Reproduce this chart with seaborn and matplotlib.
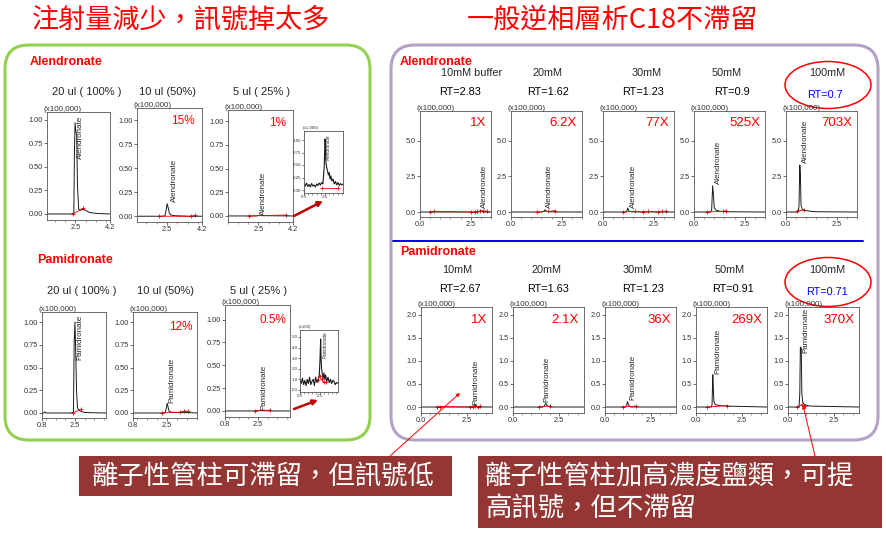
import matplotlib
matplotlib.use("Agg")
import matplotlib.pyplot as plt
import seaborn as sns
import pandas as pd
from matplotlib.transforms import Affine2D
from matplotlib.patches import FancyBboxPatch, Ellipse, Rectangle, FancyArrowPatch
from matplotlib.lines import Line2D
from matplotlib.ticker import MultipleLocator

# ------------------------------------------------------------------ data
TITLE_LEFT = "注射量減少，訊號掉太多"
TITLE_RIGHT = "一般逆相層析C18不滯留"
CALLOUT_LEFT = "離子性管柱可滯留，但訊號低"
CALLOUT_RIGHT = ["離子性管柱加高濃度鹽類，可提", "高訊號，但不滯留"]
COMPOUNDS = ["Alendronate", "Pamidronate"]

INJ_HEADERS = ["20 ul ( 100% )", "10 ul (50%)", "5 ul ( 25% )"]
ALN_INJ_PCT = ["", "15%", "1%"]
PAM_INJ_PCT = ["", "12%", "0.5%"]

ALN_CONC = ["10mM buffer", "20mM", "30mM", "50mM", "100mM"]
PAM_CONC = ["10mM", "20mM", "30mM", "50mM", "100mM"]
ALN_RT = [2.83, 1.62, 1.23, 0.9, 0.7]
PAM_RT = [2.67, 1.63, 1.23, 0.91, 0.71]
ALN_GAIN = ["1X", "6.2X", "77X", "525X", "703X"]
PAM_GAIN = ["1X", "2.1X", "36X", "269X", "370X"]

# left box: injection volume series (time min, intensity x100,000)
ALN_INJ_T = [
    [1.1, 2.3, 2.42, 2.45, 2.48, 2.52, 2.56, 2.6, 2.66, 2.75, 2.9, 3.2, 3.6, 4.2],
    [1.05, 2.3, 2.4, 2.46, 2.51, 2.56, 2.62, 2.7, 2.9, 3.5, 4.2],
    [1.0, 2.4, 2.55, 2.65, 4.2],
]
ALN_INJ_Y = [
    [0.0, 0.0, 0.01, 0.65, 0.97, 0.88, 0.84, 0.3, 0.05, 0.04, 0.05, 0.015, 0.005, 0.0],
    [0.0, 0.0, 0.005, 0.06, 0.13, 0.09, 0.03, 0.012, 0.005, 0.0, 0.0],
    [0.0, 0.0, 0.008, 0.003, 0.0],
]
ALN_INJ_MARK_T = [[2.39, 2.85], [2.11, 3.66, 3.87], [2.01, 3.86]]
ALN_INJ_MARK_Y = [[0.0, 0.06], [0.0, 0.0, 0.01], [0.0, 0.01]]

PAM_INJ_T = [
    [0.8, 0.9, 0.95, 1.0, 2.3, 2.42, 2.46, 2.5, 2.54, 2.58, 2.63, 2.7, 2.8, 3.0, 4.1],
    [0.8, 1.5, 2.3, 2.42, 2.47, 2.51, 2.55, 2.6, 2.7, 3.0, 3.5, 4.0],
    [0.8, 2.3, 2.6, 3.2, 4.15],
]
PAM_INJ_Y = [
    [0.0, 0.0, 0.012, 0.0, 0.0, 0.01, 0.78, 1.0, 0.66, 0.25, 0.06, 0.03, 0.02, 0.005, 0.0],
    [0.0, 0.0, 0.0, 0.01, 0.06, 0.107, 0.07, 0.02, 0.01, 0.005, 0.005, 0.0],
    [0.0, 0.0, 0.004, 0.0, 0.0],
]
PAM_INJ_MARK_T = [[2.38, 2.79], [2.23, 3.15, 3.37, 3.53], [2.35, 3.12]]
PAM_INJ_MARK_Y = [[0.0, 0.04], [0.0, 0.01, 0.02, 0.02], [0.0, 0.01]]

# zoomed insets of the 5 ul runs
ALN_ZOOM_T = [0.0, 0.15, 0.3, 0.45, 0.6, 0.75, 0.9, 1.05, 1.2, 1.35, 1.5, 1.65, 1.8, 1.95,
              2.1, 2.25, 2.4, 2.5, 2.55, 2.6, 2.7, 2.8, 2.9, 3.0, 3.1, 3.2, 3.3, 3.45,
              3.6, 3.75, 3.9, 4.05, 4.2, 4.35, 4.5, 4.64]
ALN_ZOOM_Y = [0.12, 0.08, 0.14, 0.07, 0.11, 0.06, 0.13, 0.08, 0.10, 0.06, 0.12, 0.09, 0.14, 0.10,
              0.15, 0.12, 0.45, 1.02, 0.95, 0.56, 0.45, 0.38, 0.30, 0.35, 0.22, 0.28, 0.18, 0.22,
              0.12, 0.17, 0.10, 0.15, 0.09, 0.13, 0.10, 0.12]
ALN_ZOOM_MARK_T = [2.1, 4.0]
ALN_ZOOM_MARK_Y = [0.04, 0.04]
PAM_ZOOM_T = [0.0, 0.15, 0.3, 0.45, 0.6, 0.75, 0.9, 1.05, 1.2, 1.35, 1.5, 1.65, 1.8, 1.95,
              2.1, 2.25, 2.4, 2.5, 2.58, 2.63, 2.7, 2.8, 2.9, 3.0, 3.1, 3.2, 3.35, 3.5,
              3.65, 3.8, 3.95, 4.1, 4.25, 4.4, 4.55, 4.75]
PAM_ZOOM_Y = [0.9, 0.6, 1.1, 0.5, 0.9, 0.4, 1.0, 0.6, 1.2, 0.5, 0.8, 1.0, 0.4, 1.2,
              0.7, 0.9, 1.3, 2.8, 4.8, 3.0, 2.0, 1.4, 1.1, 1.6, 1.0, 1.4, 0.8, 1.2,
              0.7, 1.0, 0.6, 0.9, 0.8, 0.5, 0.7, 0.6]
PAM_ZOOM_MARK_T = [2.2, 2.45, 2.7, 3.0, 3.3]
PAM_ZOOM_MARK_Y = [0.95, 1.3, 1.0, 0.7, 0.75]

# right box: salt concentration series
ALN_CONC_T = [
    [0.0, 0.5, 2.9, 2.98, 3.03, 3.1, 3.5],
    [0.0, 1.5, 1.6, 1.67, 1.75, 1.9, 3.5],
    [0.0, 1.1, 1.17, 1.22, 1.28, 1.4, 3.5],
    [0.0, 0.82, 0.87, 0.92, 0.96, 1.0, 1.1, 1.3, 1.6, 3.5],
    [0.0, 0.6, 0.64, 0.68, 0.71, 0.74, 0.8, 0.9, 1.2, 1.5, 3.5],
]
ALN_CONC_Y = [
    [0.0, 0.0, 0.0, 0.1, 0.05, 0.0, 0.0],
    [0.0, 0.0, 0.03, 0.15, 0.05, 0.01, 0.0],
    [0.0, 0.0, 0.05, 0.28, 0.06, 0.01, 0.0],
    [0.0, 0.0, 0.15, 1.85, 1.2, 0.3, 0.12, 0.05, 0.02, 0.0],
    [0.0, 0.0, 0.4, 3.3, 2.6, 0.5, 0.2, 0.12, 0.05, 0.02, 0.0],
]
ALN_CONC_MARK_T = [
    [0.47, 0.67, 2.5, 2.7, 2.83, 2.96, 3.13, 3.3],
    [1.26, 1.83, 2.18],
    [1.0, 1.57, 1.96, 2.2, 2.7, 2.9, 3.1],
    [0.62, 1.44, 1.6],
    [0.55, 0.87],
]
ALN_CONC_MARK_Y = [
    [0.0, 0.05, 0.0, 0.0, 0.05, 0.05, 0.1, 0.05],
    [0.0, 0.05, 0.1],
    [0.0, 0.05, 0.0, 0.05, 0.0, 0.05, 0.05],
    [0.0, 0.05, 0.1],
    [0.05, 0.15],
]
PAM_CONC_T = [
    [0.0, 2.8, 2.9, 2.95, 3.0, 3.1, 3.85],
    [0.0, 1.6, 1.7, 1.77, 1.85, 2.0, 3.85],
    [0.0, 1.1, 1.17, 1.22, 1.28, 1.4, 3.85],
    [0.0, 0.83, 0.87, 0.91, 0.94, 0.97, 1.05, 1.3, 1.65, 3.85],
    [0.0, 0.6, 0.64, 0.67, 0.72, 0.75, 0.8, 0.9, 1.2, 3.85],
]
PAM_CONC_Y = [
    [0.0, 0.0, 0.02, 0.06, 0.02, 0.0, 0.0],
    [0.0, 0.0, 0.02, 0.08, 0.03, 0.0, 0.0],
    [0.0, 0.0, 0.03, 0.12, 0.04, 0.0, 0.0],
    [0.0, 0.0, 0.05, 0.7, 0.4, 0.12, 0.05, 0.03, 0.02, 0.0],
    [0.0, 0.0, 0.3, 1.3, 1.28, 0.3, 0.1, 0.05, 0.02, 0.0],
]
PAM_CONC_MARK_T = [
    [0.87, 1.05, 2.63, 2.83, 2.95, 3.08, 3.22],
    [1.43, 1.99],
    [1.0, 1.68],
    [0.62, 1.67],
    [0.49, 0.74, 0.9],
]
PAM_CONC_MARK_Y = [
    [0.0, 0.01, 0.0, 0.01, 0.02, 0.01, 0.02],
    [0.0, 0.02],
    [0.0, 0.02],
    [0.0, 0.03],
    [0.0, 0.05, 0.03],
]

# ------------------------------------------------------------------ layout
W, H = 886, 533
sns.set_style("ticks")
plt.rcParams['font.family'] = ['Liberation Sans', 'DejaVu Sans']
CJK = ['Noto Sans CJK TC', 'DejaVu Sans']

fig = plt.figure(figsize=(W / 100, H / 100), dpi=100)
fig.patch.set_facecolor('white')
PX = Affine2D().scale(1.0 / W, -1.0 / H).translate(0, 1) + fig.transFigure


def add_ax(left, top, w, h):
    return fig.add_axes([left / W, 1 - (top + h) / H, w / W, h / H])


def ftext(x, y, s, **kw):
    kw.setdefault('ha', 'center')
    kw.setdefault('va', 'center')
    return fig.text(x, y, s, transform=PX, **kw)


def draw_trace(ax, t, y, mt, my, lw=0.7, ms=10):
    df = pd.DataFrame({"t": t, "y": y})
    sns.lineplot(data=df, x="t", y="y", ax=ax, color="#1a1a1a", lw=lw,
                 estimator=None, sort=False, legend=False)
    mk = pd.DataFrame({"t": mt, "y": my})
    sns.lineplot(data=mk, x="t", y="y", ax=ax, color="red", lw=0.6,
                 estimator=None, sort=False, legend=False)
    sns.scatterplot(data=mk, x="t", y="y", ax=ax, color="red", marker="+",
                    s=ms, linewidth=0.6, legend=False)
    ax.set_xlabel("")
    ax.set_ylabel("")


def style_ax(ax, xlim, ylim, xt, xl, yt, yl, fs=5.3, minor=0.5):
    ax.set_xlim(xlim)
    ax.set_ylim(ylim)
    ax.set_xticks(xt)
    ax.set_xticklabels(xl)
    ax.set_yticks(yt)
    ax.set_yticklabels(yl)
    ax.tick_params(direction='out', length=2, width=0.5, labelsize=fs, pad=1,
                   colors='#333333')
    ax.xaxis.set_minor_locator(MultipleLocator(minor))
    ax.tick_params(which='minor', direction='out', length=1.2, width=0.4, colors='#555555')
    for s in ax.spines.values():
        s.set_color('#555555')
        s.set_linewidth(0.6)
    ax.set_facecolor('none')


def scale_label(left, top, s='(x100,000)', fs=5.8):
    ftext(left - 3, top + 1, s, ha='left', va='bottom', fontsize=fs, color='#333333')


# rounded frames
fig.add_artist(FancyBboxPatch((5, 45), 365, 395, boxstyle="round,pad=0,rounding_size=24",
                              transform=PX, fill=False, ec='#92D050', lw=2.2))
fig.add_artist(FancyBboxPatch((391, 45), 487, 395, boxstyle="round,pad=0,rounding_size=24",
                              transform=PX, fill=False, ec='#B3A2C7', lw=2.2))
fig.add_artist(Line2D([393, 863], [241, 241], transform=PX, color='blue', lw=1.4))

# titles
ftext(181, 20, TITLE_LEFT, color='red', fontsize=19.5, family=CJK)
ftext(613, 20, TITLE_RIGHT, color='red', fontsize=19.5, family=CJK)

# section labels
ftext(30, 62, COMPOUNDS[0], ha='left', color='red', fontsize=9, fontweight='bold')
ftext(37, 260, COMPOUNDS[1], ha='left', color='red', fontsize=9, fontweight='bold')
ftext(400, 62, COMPOUNDS[0], ha='left', color='red', fontsize=9, fontweight='bold')
ftext(400, 252, COMPOUNDS[1], ha='left', color='red', fontsize=9, fontweight='bold')

# ---------------- left box: injection volume
L_ALN_BOX = [(47, 112, 63, 108), (137, 108, 65, 114), (228, 110, 65, 112)]
L_ALN_XLIM = [(1.1, 4.2), (1.05, 4.2), (1.0, 4.2)]
L_ALN_YLIM = [(-0.064, 1.085), (-0.06, 1.125), (-0.064, 1.12)]
L_ALN_LBL = [(2.74, 0.59), (2.85, 0.15), (2.73, 0.01)]
L_ALN_HDR_X = [87, 168, 262]
L_PAM_BOX = [(42, 312, 64, 106), (133, 312, 64, 106), (225, 305, 65, 112)]
L_PAM_XLIM = [(0.8, 4.1), (0.8, 4.0), (0.8, 4.15)]
L_PAM_YLIM = [(-0.055, 1.11), (-0.055, 1.11), (-0.066, 1.16)]
L_PAM_LBL = [(2.76, 0.58), (2.73, 0.11), (2.81, 0.01)]
L_PAM_HDR_X = [82, 166, 259]
ytl = [0, 0.25, 0.5, 0.75, 1.0]
ytl_lab = ["0.00", "0.25", "0.50", "0.75", "1.00"]

for i in range(3):
    ftext(L_ALN_HDR_X[i], 92, INJ_HEADERS[i], fontsize=8)
    l, t, w, h = L_ALN_BOX[i]
    ax = add_ax(l, t, w, h)
    draw_trace(ax, ALN_INJ_T[i], ALN_INJ_Y[i], ALN_INJ_MARK_T[i], ALN_INJ_MARK_Y[i])
    style_ax(ax, L_ALN_XLIM[i], L_ALN_YLIM[i], [2.5, 4.2], ["2.5", "4.2"], ytl, ytl_lab)
    ax.text(*L_ALN_LBL[i], COMPOUNDS[0], rotation=90, ha='center', va='bottom', fontsize=5.8)
    scale_label(l, t)
    if ALN_INJ_PCT[i]:
        ftext(l + w - 7, t + 13, ALN_INJ_PCT[i], ha='right', color='red', fontsize=8.5)

    ftext(L_PAM_HDR_X[i], 291, INJ_HEADERS[i], fontsize=8)
    l, t, w, h = L_PAM_BOX[i]
    ax = add_ax(l, t, w, h)
    draw_trace(ax, PAM_INJ_T[i], PAM_INJ_Y[i], PAM_INJ_MARK_T[i], PAM_INJ_MARK_Y[i])
    style_ax(ax, L_PAM_XLIM[i], L_PAM_YLIM[i], [0.8, 2.5], ["0.8", "2.5"], ytl, ytl_lab)
    ax.text(*L_PAM_LBL[i], COMPOUNDS[1], rotation=90, ha='center', va='bottom', fontsize=5.8)
    scale_label(l, t)
    if PAM_INJ_PCT[i]:
        ftext(l + w - 4, t + 15, PAM_INJ_PCT[i], ha='right', color='red', fontsize=8.5)

# insets
ax = add_ax(304, 131, 39, 62)
draw_trace(ax, ALN_ZOOM_T, ALN_ZOOM_Y, ALN_ZOOM_MARK_T, ALN_ZOOM_MARK_Y, lw=0.8, ms=5)
style_ax(ax, (0, 4.64), (-0.06, 1.18), [0, 2.5], ["0.0", "2.5"], ytl, ytl_lab, fs=3.2)
ax.tick_params(length=1.2, pad=0.5)
ax.text(2.9, 0.6, COMPOUNDS[0], rotation=90, ha='center', va='bottom', fontsize=3.3)
ftext(303, 130, "(x1,000)", ha='left', va='bottom', fontsize=3.2, color='#333333')

ax = add_ax(300, 330, 38, 62)
draw_trace(ax, PAM_ZOOM_T, PAM_ZOOM_Y, PAM_ZOOM_MARK_T, PAM_ZOOM_MARK_Y, lw=0.8, ms=5)
style_ax(ax, (0, 4.75), (-0.2, 5.66), [0, 2.5], ["0.0", "2.5"],
         [0, 1, 2, 3, 4, 5], ["0.0", "1.0", "2.0", "3.0", "4.0", "5.0"], fs=3.2)
ax.tick_params(length=1.2, pad=0.5)
ax.text(3.1, 3.0, COMPOUNDS[1], rotation=90, ha='center', va='bottom', fontsize=3.3)
ftext(299, 329, "(x100)", ha='left', va='bottom', fontsize=3.2, color='#333333')

# zoom arrows
for a, b in [((294, 216), (323, 201)), ((294, 409), (318, 400))]:
    fig.add_artist(FancyArrowPatch(a, b, transform=PX, arrowstyle='-|>', mutation_scale=7,
                                   color='#C00000', lw=1.8, shrinkA=0, shrinkB=0))

# ---------------- right box: salt concentration
R_ALN_LEFT = [420, 511, 603, 694, 786]
R_PAM_LEFT = [421, 513, 605, 696, 788]
R_ALN_HDR_X = [472, 548, 647, 727, 827]
R_ALN_RT_X = [460, 548, 643, 732, 825]
R_PAM_HDR_X = [457, 547, 638, 730, 827]
R_PAM_RT_X = [460, 548, 643, 733, 827]
R_ALN_LBL = [(3.17, 0.28), (1.91, 0.25), (1.49, 0.25), (1.2, 1.97), (0.97, 3.45)]
R_PAM_LBL = [(2.95, 0.05), (1.85, 0.1), (1.5, 0.15), (1.21, 0.72), (0.96, 1.17)]

for i in range(5):
    last = i == 4
    ftext(R_ALN_HDR_X[i], 73, ALN_CONC[i], fontsize=7.8)
    ftext(R_ALN_RT_X[i], 95 if last else 92, f"RT={ALN_RT[i]}", fontsize=7.8,
          color='blue' if last else 'black')
    l, t, w, h = R_ALN_LEFT[i], 111, 71, 106
    ax = add_ax(l, t, w, h)
    draw_trace(ax, ALN_CONC_T[i], ALN_CONC_Y[i], ALN_CONC_MARK_T[i], ALN_CONC_MARK_Y[i])
    style_ax(ax, (0, 3.5), (-0.35, 7.1), [0, 2.5], ["0.0", "2.5"],
             [0, 2.5, 5.0], ["0.0", "2.5", "5.0"])
    ax.text(*R_ALN_LBL[i], COMPOUNDS[0], rotation=90, ha='center', va='bottom', fontsize=5.8)
    scale_label(l, t)
    ftext(l + w - 5, t + 12, ALN_GAIN[i], ha='right', color='red', fontsize=9.5)

    ftext(R_PAM_HDR_X[i], 270, PAM_CONC[i], fontsize=7.8)
    ftext(R_PAM_RT_X[i], 292 if last else 289, f"RT={PAM_RT[i]}", fontsize=7.8,
          color='blue' if last else 'black')
    l, t, w, h = R_PAM_LEFT[i], 307, 71, 106
    ax = add_ax(l, t, w, h)
    draw_trace(ax, PAM_CONC_T[i], PAM_CONC_Y[i], PAM_CONC_MARK_T[i], PAM_CONC_MARK_Y[i])
    style_ax(ax, (0, 3.85), (-0.13, 2.17), [0, 2.5], ["0.0", "2.5"],
             [0, 0.5, 1.0, 1.5, 2.0], ["0.0", "0.5", "1.0", "1.5", "2.0"])
    ax.text(*R_PAM_LBL[i], COMPOUNDS[1], rotation=90, ha='center', va='bottom', fontsize=5.8)
    scale_label(l, t)
    ftext(l + w - 5, t + 13, PAM_GAIN[i], ha='right', color='red', fontsize=9.5)

# highlight ellipses
fig.add_artist(Ellipse((828, 85), 86, 47, transform=PX, fill=False, ec='red', lw=1.1))
fig.add_artist(Ellipse((828, 282), 86, 49, transform=PX, fill=False, ec='red', lw=1.1))

# ---------------- callouts
fig.add_artist(Rectangle((79, 456), 373, 40, transform=PX, fc='#943634', ec='none'))
ftext(263, 476, CALLOUT_LEFT, color='white', fontsize=19, family=CJK)
fig.add_artist(Rectangle((478, 456), 404, 72, transform=PX, fc='#943634', ec='none'))
ftext(485, 477, CALLOUT_RIGHT[0], ha='left', color='white', fontsize=19, family=CJK)
ftext(485, 509, CALLOUT_RIGHT[1], ha='left', color='white', fontsize=19, family=CJK)

for a, b in [((390, 456), (460, 393)), ((815, 456), (803, 405))]:
    fig.add_artist(FancyArrowPatch(a, b, transform=PX, arrowstyle='-|>', mutation_scale=5,
                                   color='red', lw=0.7, shrinkA=0, shrinkB=0))

fig.savefig("out.png", dpi=100, facecolor='white')
